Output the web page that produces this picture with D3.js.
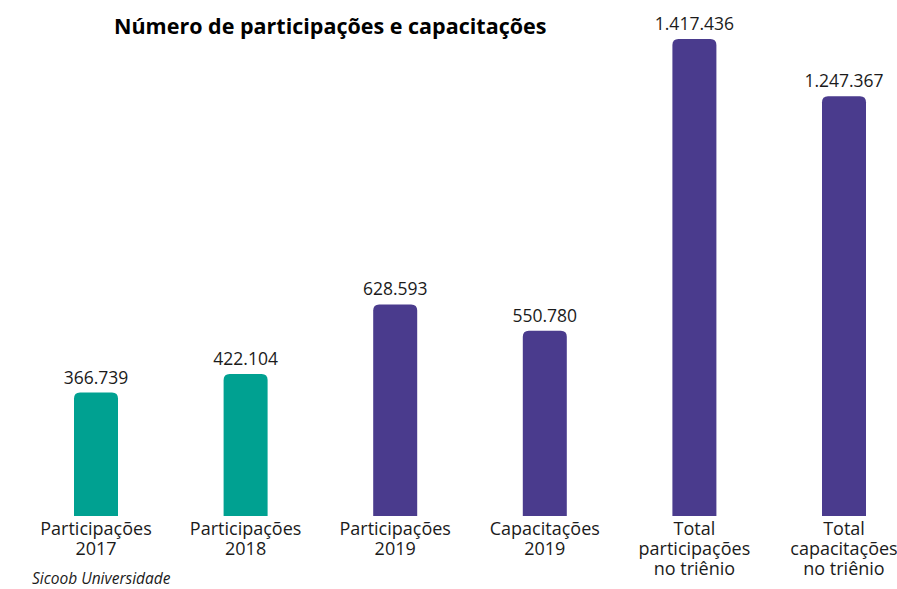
<!DOCTYPE html>
<html>
<head>
<meta charset="utf-8">
<script src="https://cdn.jsdelivr.net/npm/d3@7"></script>
<style>
  body { margin: 0; background: #fff; }
  text { font-family: "Open Sans", "Noto Sans", sans-serif; fill: #1b1b1b; }
</style>
</head>
<body>
<div id="chart"></div>
<script>
var categories = [
    ["Participações", "2017"],
    ["Participações", "2018"],
    ["Participações", "2019"],
    ["Capacitações", "2019"],
    ["Total", "participações", "no triênio"],
    ["Total", "capacitações", "no triênio"]
];
var values = [366739, 422104, 628593, 550780, 1417436, 1247367];
var barColors = ["#00a191", "#00a191", "#4a3b8d", "#4a3b8d", "#4a3b8d", "#4a3b8d"];
var chartTitle = "Número de participações e capacitações";
var sourceText = "Sicoob Universidade";

var width = 897, height = 589;
var baseY = 516;
var barW = 44, r = 6;

var svg = d3.select("#chart").append("svg")
    .attr("width", width)
    .attr("height", height);

var x = d3.scalePoint()
    .domain(d3.range(values.length))
    .range([96, 844]);

var y = d3.scaleLinear()
    .domain([0, d3.max(values)])
    .range([baseY, 39]);

var fmt = function(v) {
    return d3.format(",")(v).replace(/,/g, ".");
};

// bars with rounded top corners
function barPath(cx, top) {
    var x0 = cx - barW / 2, x1 = cx + barW / 2;
    return "M" + x0 + "," + baseY +
        "V" + (top + r) +
        "Q" + x0 + "," + top + " " + (x0 + r) + "," + top +
        "H" + (x1 - r) +
        "Q" + x1 + "," + top + " " + x1 + "," + (top + r) +
        "V" + baseY + "Z";
}

svg.selectAll("path.bar")
    .data(values)
    .enter()
    .append("path")
    .attr("class", "bar")
    .attr("d", function(d, i) { return barPath(x(i), y(d)); })
    .attr("fill", function(d, i) { return barColors[i]; });

svg.selectAll("text.val")
    .data(values)
    .enter()
    .append("text")
    .attr("class", "val")
    .attr("x", function(d, i) { return x(i); })
    .attr("y", function(d) { return y(d) - 9; })
    .attr("text-anchor", "middle")
    .style("font-size", "17.5px")
    .text(fmt);

var labels = svg.selectAll("text.cat")
    .data(categories)
    .enter()
    .append("text")
    .attr("class", "cat")
    .attr("text-anchor", "middle")
    .style("font-size", "18px");

labels.selectAll("tspan")
    .data(function(d, i) { return d.map(function(t) { return { t: t, i: i }; }); })
    .enter()
    .append("tspan")
    .attr("x", function(d) { return x(d.i); })
    .attr("y", function(d, j) { return 535 + j * 20; })
    .text(function(d) { return d.t; });

svg.append("text")
    .attr("x", 114)
    .attr("y", 34)
    .style("font-size", "21.5px")
    .style("font-weight", "bold")
    .style("fill", "#000")
    .text(chartTitle);

svg.append("text")
    .attr("x", 32)
    .attr("y", 584)
    .style("font-size", "15.5px")
    .style("font-style", "italic")
    .text(sourceText);
</script>
</body>
</html>
